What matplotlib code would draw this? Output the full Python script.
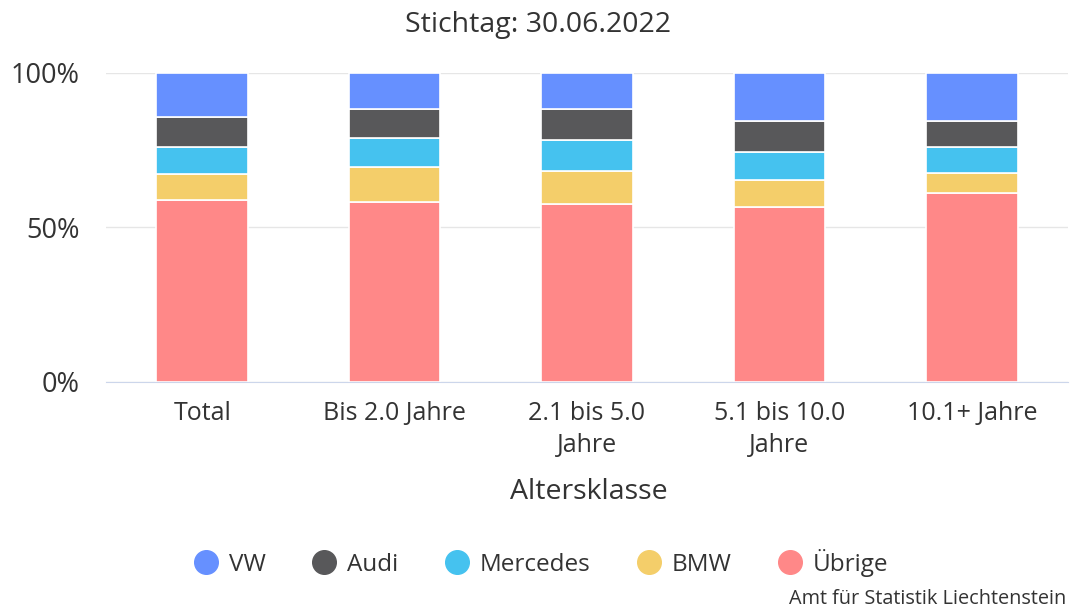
import matplotlib.pyplot as plt
import numpy as np

kategorien = ['Total', 'Bis 2.0 Jahre', '2.1 bis 5.0\nJahre', '5.1 bis 10.0\nJahre', '10.1+ Jahre']
marken = ['VW', 'Audi', 'Mercedes', 'BMW', 'Übrige']
farben = ['#6690ff', '#58585a', '#45c2ef', '#f4ce6a', '#ff8888']

# Anteile in Prozent, von unten nach oben gestapelt: Übrige, BMW, Mercedes, Audi, VW
uebrige = [58.7, 58.0, 57.4, 56.4, 60.9]
bmw = [8.4, 11.4, 10.7, 8.8, 6.7]
mercedes = [8.9, 9.5, 10.2, 9.0, 8.2]
audi = [9.5, 9.5, 10.0, 10.0, 8.4]
vw = [14.5, 11.6, 11.7, 15.8, 15.8]

plt.rcParams['font.family'] = ['Open Sans', 'DejaVu Sans']


def gera_grafico():
    fig = plt.figure(figsize=(10.7, 6.07), dpi=100)
    ax = fig.add_axes([106 / 1070, 1 - 381.5 / 607, 962 / 1070, (381.5 - 72.7) / 607])

    x = np.arange(len(kategorien))
    serien = {'Übrige': uebrige, 'BMW': bmw, 'Mercedes': mercedes, 'Audi': audi, 'VW': vw}
    unten = np.zeros(len(kategorien))
    for name in ['Übrige', 'BMW', 'Mercedes', 'Audi', 'VW']:
        werte = np.array(serien[name])
        ax.bar(x, werte, 0.477, bottom=unten, color=farben[marken.index(name)],
               edgecolor='white', linewidth=1.2, zorder=3)
        unten += werte

    ax.set_xlim(-0.5, len(kategorien) - 0.5)
    ax.set_ylim(0, 100)
    ax.set_yticks([0, 50, 100])
    ax.set_yticklabels(['0%', '50%', '100%'], fontsize=19.5, color='#333333')
    ax.set_xticks(x)
    ax.set_xticklabels(kategorien, fontsize=18, color='#333333', linespacing=1.35)
    ax.tick_params(axis='both', length=0)
    ax.tick_params(axis='x', pad=14)
    ax.tick_params(axis='y', pad=19)
    ax.grid(axis='y', color='#e6e6e6', linewidth=1, zorder=0)
    for s in ['top', 'right', 'left']:
        ax.spines[s].set_visible(False)
    ax.spines['bottom'].set_color('#ccd6eb')
    ax.spines['bottom'].set_zorder(4)

    fig.text(538 / 1070, 1 - 25 / 607, 'Stichtag: 30.06.2022', ha='center', va='center',
             fontsize=20.5, color='#333333')
    fig.text(589 / 1070, 1 - 492 / 607, 'Altersklasse', ha='center', va='center',
             fontsize=20.5, color='#333333')

    handles = [plt.Line2D([], [], marker='o', linestyle='', markersize=17, color=c) for c in farben]
    fig.legend(handles, marken, loc='center', bbox_to_anchor=(541 / 1070, 1 - 563 / 607),
               ncol=5, frameon=False, fontsize=17.5, handlelength=1.0, handletextpad=0.45,
               columnspacing=1.9, labelcolor='#333333')

    fig.text(1066 / 1070, 1 - 599 / 607, 'Amt für Statistik Liechtenstein', ha='right',
             va='center', fontsize=14.3, color='#333333')

    fig.savefig('out.png', dpi=100)


def main():
    gera_grafico()


if __name__ == '__main__':
    main()
